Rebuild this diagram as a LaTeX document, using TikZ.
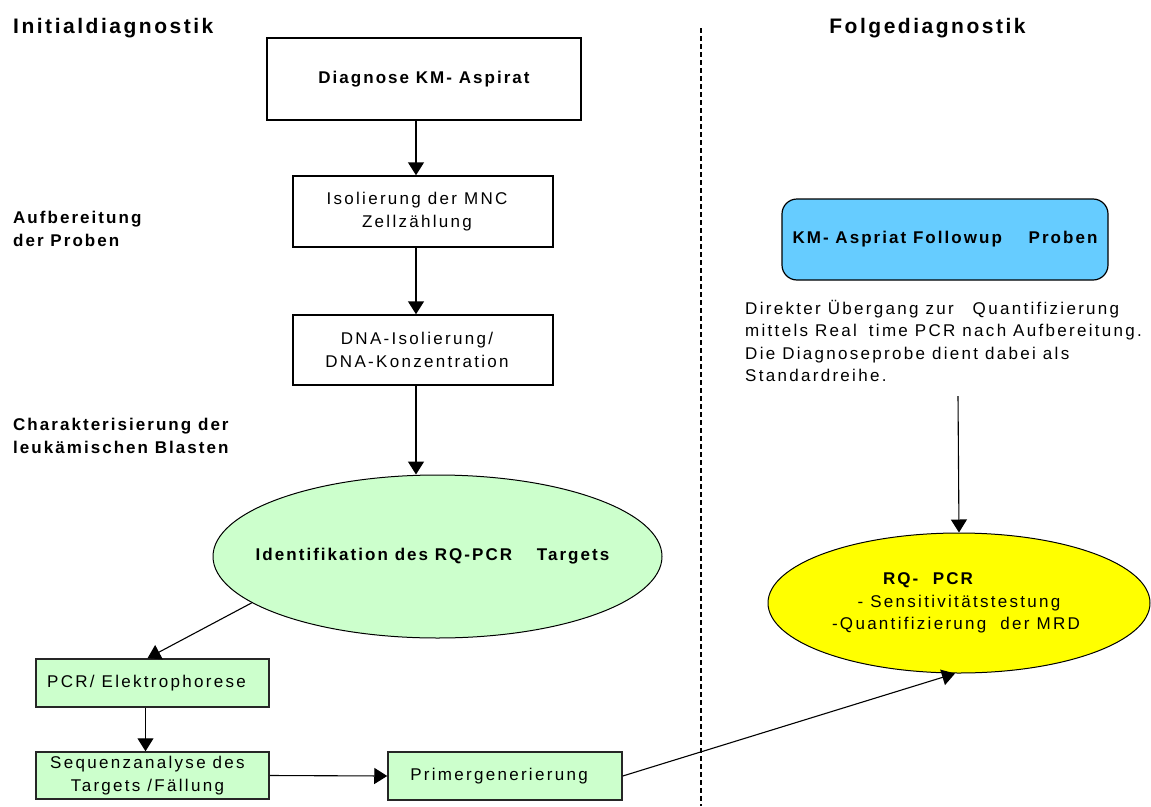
\documentclass[tikz,border=0pt]{standalone}
\usepackage{fontspec}
\setmainfont{Liberation Sans}[LetterSpace=13.5, BoldFeatures={LetterSpace=12}]
\usetikzlibrary{arrows.meta,shapes.geometric,calc}
\definecolor{lgreen}{HTML}{CCFFCC}
\definecolor{lblue}{HTML}{66CCFF}
\definecolor{lyellow}{HTML}{FFFF00}
\begin{document}
\begin{tikzpicture}[x=1pt,y=-1pt,
  txt/.style={font=\fontsize{17}{22.5}\selectfont},
  btxt/.style={font=\fontsize{17}{22.5}\selectfont\bfseries},
  hdr/.style={font=\fontsize{21}{25}\selectfont\bfseries, inner sep=0},
  lbl/.style={btxt, align=left, inner sep=0, anchor=west},
  wbox/.style={draw, line width=1.5pt, fill=white, inner sep=0, align=center, txt},
  gbox/.style={draw=black!85, line width=1.5pt, fill=lgreen, inner sep=0, align=center, txt},
  ellbox/.style={ellipse, draw, line width=1pt, inner sep=0, align=center},
  arr/.style={-{Triangle[length=13pt,width=16pt]}, line width=1.5pt},
  tarr/.style={-{Triangle[length=13pt,width=16pt]}, line width=1.1pt},
  divider/.style={dash pattern=on 5pt off 3pt, line width=1.2pt},
]
\useasboundingbox (0,0) rectangle (1151,806);

% headers
\node[hdr, anchor=base west] (h1) at (13,33) {Initialdiagnostik};
\node[hdr, anchor=base] (h2) at (927.5,33) {Folgediagnostik};

% divider
\coordinate (dtop) at (701,28);
\coordinate (dbot) at (701,806);
\draw[divider] (dtop) -- (dbot);

% side labels
\node[lbl] (s1) at (13,229) {Aufbereitung\\der Proben};
\node[lbl] (s2) at (13,436) {Charakterisierung der\\leukämischen Blasten};

% left column
\node[wbox, btxt, minimum width=314pt, minimum height=82pt] (b1) at (424,79) {Diagnose KM- Aspirat};
\node[wbox, minimum width=260pt, minimum height=71pt] (b2) at (423,211.5) {Isolierung der MNC\kern12pt\\Zellzählung\kern12pt};
\node[wbox, minimum width=260pt, minimum height=70pt] (b3) at (423,350) {DNA-Isolierung/\kern12pt\\DNA-Konzentration\kern12pt};
\node[ellbox, fill=lgreen, minimum width=449pt, minimum height=163pt, btxt] (gell) at (437.5,556.5) {\makebox[0pt]{Identifikation des RQ-PCR\hspace{18pt} Targets\kern10pt}};
\node[gbox, minimum width=233pt, minimum height=48pt] (pcr) at (152.5,683) {PCR/ Elektrophorese\kern12pt};
\node[gbox, minimum width=233pt, minimum height=47pt] (seq) at (152.5,775.5) {Sequenzanalyse des\kern10pt\\Targets /Fällung\kern10pt};
\node[gbox, minimum width=234pt, minimum height=48pt] (prim) at (505,776) {Primergenerierung\kern12pt};

% right column
\node[draw, line width=1.2pt, fill=lblue, rounded corners=15pt, minimum width=326pt, minimum height=81pt, inner sep=0, btxt] (blue) at (945,239.5) {KM- Aspriat Followup\hspace{20pt} Proben};
\node[txt, anchor=north west, align=left, inner sep=0] (para) at (745,300) {Direkter Übergang zur\hspace{12pt} Quantifizierung\\mittels Real\hspace{5pt} time PCR nach Aufbereitung.\\Die Diagnoseprobe dient dabei als\\Standardreihe.};
\node[ellbox, fill=lyellow, minimum width=382pt, minimum height=140pt, txt] (yel) at (959,603) {\textbf{RQ-\hspace{8pt} PCR}\kern60pt\\- Sensitivitätstestung\\-Quantifizierung\hspace{7pt} der MRD\kern6pt};
\coordinate (pstart) at (958,396);

% connectors
\draw[arr] ([xshift=-8pt]b1.south) -- ([xshift=-7pt]b2.north);
\draw[arr] ([xshift=-7pt]b2.south) -- ([xshift=-7pt]b3.north);
\draw[arr] ([xshift=-7pt]b3.south) -- ([xshift=-7pt]b3.south |- gell.north);
\draw[tarr] (gell.194) -- ([xshift=-5pt]pcr.north);
\draw[tarr] ([xshift=-7pt]pcr.south) -- ([xshift=-7pt]seq.north);
\draw[tarr] (seq.east) -- (prim.west);
\draw[tarr] (prim.east) -- ([xshift=-4pt]yel.south);
\draw[tarr] (pstart) -- (yel.north);
\end{tikzpicture}
\end{document}
